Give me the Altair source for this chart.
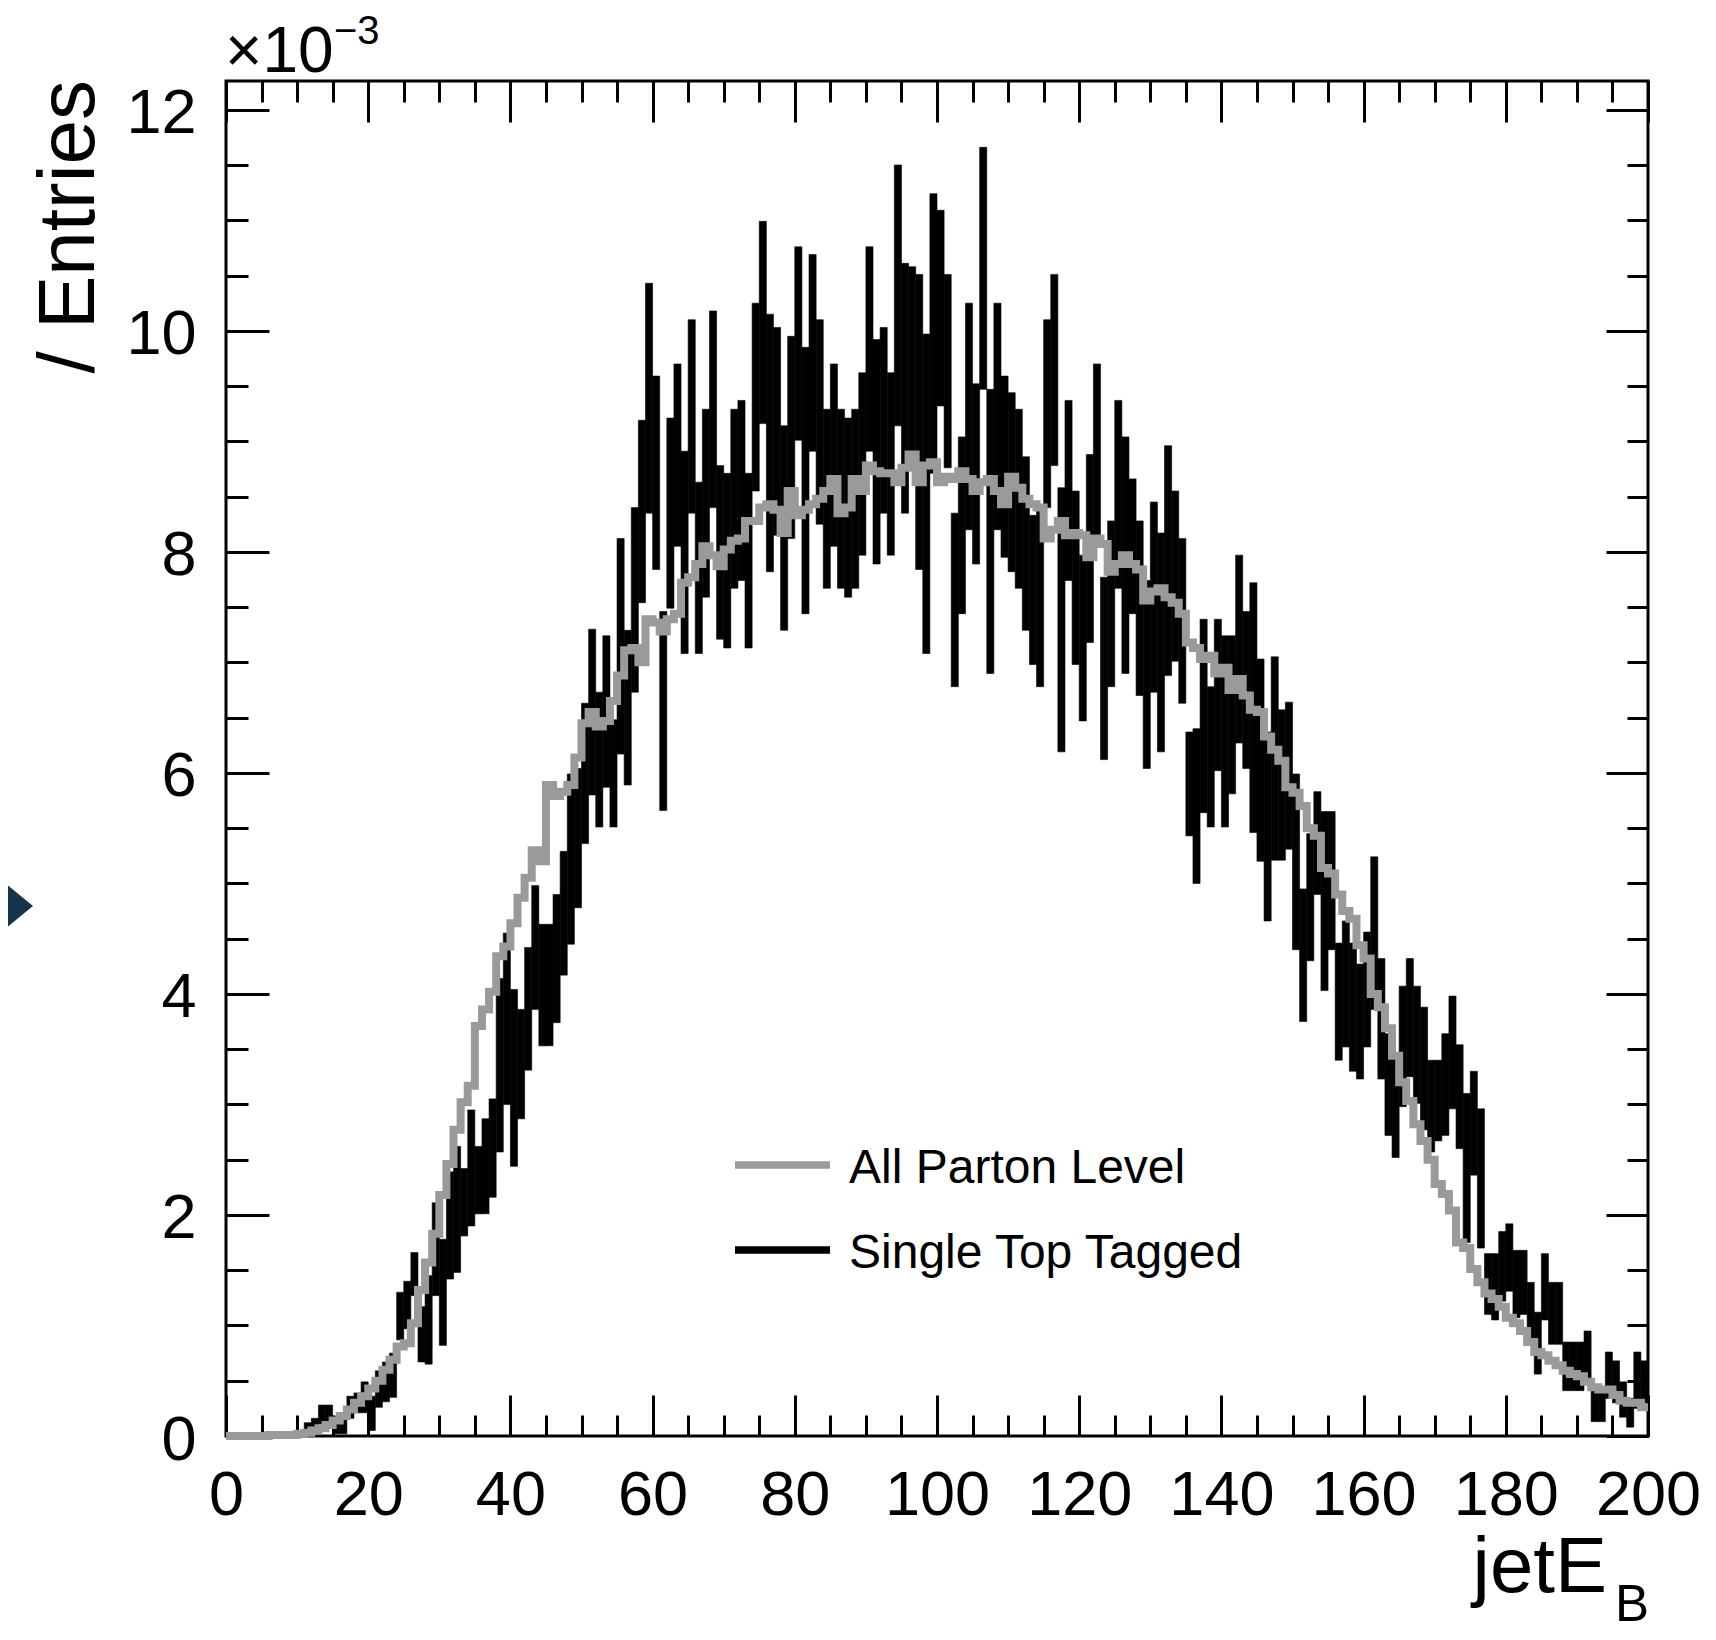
import altair as alt
import pandas as pd

FONT = "Liberation Sans"

# 1 GeV bins, lower edges
BIN_LO = list(range(0, 200))

# "All Parton Level" histogram (x 1e-3)
GRAY = [
    0, 0, 0, 0, 0, 0, 0.01, 0.01, 0.01, 0.01,
    0.02, 0.03, 0.05, 0.07, 0.10, 0.14, 0.18, 0.24, 0.30, 0.36,
    0.43, 0.50, 0.60, 0.69, 0.81, 0.84, 1.02, 1.32, 1.57, 1.83,
    2.18, 2.46, 2.77, 3.02, 3.17, 3.71, 3.86, 4.02, 4.34, 4.43,
    4.64, 4.87, 5.05, 5.30, 5.20, 5.89, 5.79, 5.83, 5.89, 6.14,
    6.45, 6.55, 6.42, 6.47, 6.65, 6.88, 7.11, 7.13, 7.00, 7.39,
    7.36, 7.28, 7.39, 7.44, 7.72, 7.77, 7.89, 8.05, 7.97, 7.87,
    8.02, 8.10, 8.12, 8.28, 8.28, 8.40, 8.43, 8.38, 8.17, 8.55,
    8.33, 8.38, 8.43, 8.48, 8.55, 8.66, 8.35, 8.40, 8.66, 8.55,
    8.78, 8.73, 8.71, 8.71, 8.63, 8.76, 8.88, 8.63, 8.78, 8.81,
    8.63, 8.68, 8.66, 8.73, 8.66, 8.55, 8.63, 8.66, 8.55, 8.43,
    8.68, 8.58, 8.48, 8.43, 8.40, 8.12, 8.20, 8.28, 8.15, 8.17,
    8.15, 7.95, 8.12, 8.07, 7.82, 7.89, 7.97, 7.89, 7.84, 7.56,
    7.64, 7.67, 7.59, 7.54, 7.44, 7.18, 7.13, 7.03, 7.06, 6.90,
    6.95, 6.75, 6.85, 6.70, 6.57, 6.55, 6.33, 6.21, 6.11, 5.87,
    5.82, 5.70, 5.50, 5.43, 5.14, 5.09, 4.90, 4.75, 4.68, 4.44,
    4.32, 4.00, 3.88, 3.69, 3.44, 3.20, 3.03, 2.82, 2.67, 2.50,
    2.28, 2.19, 2.04, 1.75, 1.70, 1.51, 1.39, 1.29, 1.24, 1.17,
    1.07, 1.02, 0.95, 0.85, 0.76, 0.73, 0.68, 0.64, 0.59, 0.56,
    0.54, 0.49, 0.44, 0.42, 0.42, 0.37, 0.32, 0.30, 0.30, 0.26,
]

# "Single Top Tagged": upper and lower ends of the error bars (x 1e-3)
N = None
BLACK_HI = [
    N, N, N, N, N, N, N, N, N, N,
    N, 0.12, 0.16, 0.28, 0.28, 0.18, 0.16, 0.36, 0.39, 0.49,
    0.36, 0.59, 0.67, 0.75, 1.30, 1.40, 1.66, 1.17, 1.45, 2.11,
    1.78, 2.39, 2.62, 2.42, 2.95, 2.62, 2.87, 3.05, 4.14, 4.55,
    4.04, 3.86, 4.42, 4.98, 4.63, 4.63, 4.90, 5.29, 5.99, 6.04,
    6.63, 7.30, 6.73, 7.24, 6.48, 8.12, 7.29, 8.40, 9.19, 10.43,
    9.59, 7.46, 9.21, 9.70, 8.91, 10.10, 8.63, 9.29, 10.18, 8.78,
    8.71, 9.29, 9.37, 8.71, 10.25, 10.99, 10.15, 10.03, 9.14, 9.95,
    10.76, 9.85, 10.69, 10.10, 9.29, 9.70, 9.29, 9.21, 9.29, 9.62,
    10.76, 9.92, 10.03, 9.62, 11.50, 10.61, 10.58, 10.51, 9.97, 11.24,
    11.09, 10.51, 8.35, 9.04, 10.25, 9.52, 11.66, 9.47, 10.25, 9.59,
    9.44, 9.29, 8.86, 8.33, 8.40, 10.10, 10.51, 8.58, 9.37, 8.55,
    7.97, 8.88, 9.70, 7.77, 8.28, 9.37, 9.04, 8.66, 8.28, 7.74,
    8.45, 8.17, 8.96, 8.55, 8.12, 6.37, 6.40, 7.39, 6.78, 7.39,
    7.24, 7.24, 7.97, 7.46, 7.72, 7.03, 6.37, 7.05, 6.57, 6.64,
    5.99, 4.95, 5.45, 5.83, 5.65, 5.65, 4.46, 4.66, 4.46, 4.27,
    4.56, 5.24, 4.32, 3.64, 3.44, 4.07, 4.32, 4.07, 3.88, 3.40,
    3.40, 3.64, 3.98, 3.54, 3.10, 3.30, 2.96, 1.65, 1.65, 1.85,
    1.92, 1.68, 1.68, 1.39, 1.12, 1.65, 1.39, 1.39, 0.85, 0.85,
    0.85, 0.95, 0.44, 0.44, 0.76, 0.68, 0.49, 0.34, 0.76, 0.68,
]
BLACK_LO = [
    N, N, N, N, N, N, N, N, N, N,
    N, 0.00, 0.02, 0.11, 0.11, 0.02, 0.02, 0.16, 0.21, 0.21,
    0.05, 0.26, 0.31, 0.35, 0.87, 0.97, 1.27, 0.67, 0.65, 1.27,
    0.82, 1.42, 1.48, 1.81, 1.90, 2.01, 2.01, 2.16, 2.57, 3.00,
    2.44, 2.87, 3.31, 3.86, 3.53, 3.53, 3.74, 4.17, 4.45, 4.78,
    5.36, 5.80, 5.51, 5.87, 5.51, 6.17, 5.89, 6.73, 7.54, 8.35,
    7.84, 5.66, 7.49, 8.05, 7.08, 8.35, 7.08, 7.59, 8.40, 7.21,
    7.13, 7.67, 7.74, 7.13, 8.55, 9.16, 7.82, 8.15, 7.29, 8.12,
    9.01, 7.44, 8.91, 8.25, 7.67, 8.05, 7.67, 7.59, 7.67, 7.97,
    8.91, 7.89, 8.35, 7.97, 9.14, 8.35, 8.86, 7.84, 7.08, 8.71,
    9.32, 8.76, 6.78, 7.44, 8.20, 7.89, 9.47, 6.90, 8.20, 7.95,
    7.82, 7.67, 7.29, 6.98, 6.78, 8.40, 8.78, 6.19, 7.74, 6.98,
    6.47, 7.18, 8.05, 6.12, 6.78, 7.67, 6.90, 7.44, 6.70, 6.04,
    6.73, 6.19, 6.88, 7.01, 6.63, 5.43, 5.00, 5.64, 5.51, 6.02,
    5.51, 5.81, 6.27, 6.04, 5.46, 5.20, 4.66, 5.21, 5.21, 5.31,
    4.40, 3.75, 4.30, 4.90, 4.03, 4.40, 3.40, 3.52, 3.30, 3.23,
    3.52, 3.86, 3.23, 2.72, 2.52, 2.98, 3.25, 3.01, 2.77, 2.57,
    2.67, 2.72, 2.96, 2.60, 1.75, 2.36, 1.70, 1.10, 1.05, 1.22,
    1.31, 1.07, 1.10, 0.83, 0.56, 1.05, 0.83, 0.83, 0.41, 0.41,
    0.41, 0.51, 0.13, 0.13, 0.34, 0.30, 0.17, 0.08, 0.25, 0.30,
]

X_MAJOR = [0, 20, 40, 60, 80, 100, 120, 140, 160, 180, 200]
X_MINOR = list(range(0, 201, 5))
Y_MAJOR = [0, 2, 4, 6, 8, 10, 12]
Y_MINOR = [k * 0.5 for k in range(25)]

LEGEND_LABELS = ["All Parton Level", "Single Top Tagged"]
X_TITLE = "jetE"
X_TITLE_SUB = "B"
Y_TITLE = "/ Entries"
EXP_BASE = "\u00d710"
EXP_POW = "\u22123"

GRAY_COLOR = "#9a9a9a"
W, H = 1422, 1355
YMAX = 12.26
LABEL_SIZE = 63

df_gray = pd.DataFrame({"x": BIN_LO + [200], "v": GRAY + [GRAY[-1]]})
rows = [
    {"x0": b, "x1": b + 1, "lo": lo, "hi": hi}
    for b, lo, hi in zip(BIN_LO, BLACK_LO, BLACK_HI)
    if hi is not None
]
df_black = pd.DataFrame(rows)

xs = alt.Scale(domain=[0, 200], nice=False, zero=False)
ys = alt.Scale(domain=[0, YMAX], nice=False, zero=False)


def tick_axis(orient, values, size):
    return alt.Axis(
        orient=orient, values=values, labels=False, ticks=True, domain=False,
        grid=False, title=None, tickSize=alt.ExprRef(expr=str(-size)),
        tickWidth=3, tickColor="black",
    )


label_x = alt.Axis(
    orient="bottom", values=X_MAJOR, format="d", ticks=False, domain=False,
    grid=False, title=None, labelFont=FONT, labelFontSize=LABEL_SIZE,
    labelColor="black", labelPadding=28, labelFlush=False, labelOverlap=False,
    labelBound=False,
)
label_y = alt.Axis(
    orient="left", values=Y_MAJOR, format="d", ticks=False, domain=False,
    grid=False, title=None, labelFont=FONT, labelFontSize=LABEL_SIZE,
    labelColor="black", labelPadding=30, labelOffset=4, labelFlush=False,
    labelOverlap=False, labelBound=False,
)

bars = alt.Chart(df_black).mark_rect(
    color="black", stroke="black", strokeWidth=0.6
).encode(
    x=alt.X("x0:Q", scale=xs, axis=tick_axis("bottom", X_MAJOR, 41)),
    x2="x1:Q",
    y=alt.Y("lo:Q", scale=ys, axis=tick_axis("left", Y_MAJOR, 43)),
    y2="hi:Q",
)

line = alt.Chart(df_gray).mark_line(
    interpolate="step-after", color=GRAY_COLOR, strokeWidth=8,
    strokeJoin="miter", strokeCap="butt",
).encode(
    x=alt.X("x:Q", scale=xs, axis=label_x),
    y=alt.Y("v:Q", scale=ys, axis=label_y),
)


def dummy(ax_x, ax_y):
    return alt.Chart(df_gray).mark_point(opacity=0).encode(
        x=alt.X("x:Q", scale=xs, axis=ax_x),
        y=alt.Y("v:Q", scale=ys, axis=ax_y),
    )


d1 = dummy(tick_axis("bottom", X_MINOR, 21), tick_axis("left", Y_MINOR, 22))
d2 = dummy(tick_axis("top", X_MAJOR, 41), tick_axis("right", Y_MAJOR, 42))
d3 = dummy(tick_axis("top", X_MINOR, 21), tick_axis("right", Y_MINOR, 21))

one = pd.DataFrame({"k": [0]})


def text(t, x, y, size, align="left", angle=0):
    props = dict(font=FONT, fontSize=size, color="black", align=align,
                 baseline="alphabetic")
    if angle:
        props["angle"] = angle
    return alt.Chart(pd.DataFrame({"t": [t]})).mark_text(**props).encode(
        text="t:N", x=alt.value(x), y=alt.value(y)
    )


def seg(color, y):
    return alt.Chart(one).mark_rule(color=color, strokeWidth=7.5, strokeCap="butt").encode(
        x=alt.value(509), x2=alt.value(604), y=alt.value(y)
    )


legend = [
    seg(GRAY_COLOR, 1084),
    seg("black", 1169),
    text(LEGEND_LABELS[0], 623, 1102, 48),
    text(LEGEND_LABELS[1], 623, 1187, 48),
]

titles = [
    text(Y_TITLE, -132, -1, 80, align="right", angle=270),
    text(X_TITLE, 1381, 1511, 78, align="right"),
    text(X_TITLE_SUB, 1389, 1540, 51),
    text(EXP_BASE, -1, -9, 64),
    text(EXP_POW, 108, -37, 40),
]

tri = alt.Chart(one).mark_point(
    shape="M-0.61,-1L0.61,0L-0.61,1Z", filled=True, color="#13344b",
    size=2916, opacity=1, strokeWidth=0,
).encode(x=alt.value(-209.5), y=alt.value(825))

chart = alt.layer(
    bars, line, d1, d2, d3, *legend, *titles, tri
).resolve_axis(x="independent", y="independent").properties(
    width=W, height=H,
    autosize=alt.AutoSizeParams(type="none"),
    padding={"left": 218, "top": 73, "right": 60, "bottom": 195},
    background="white",
).configure_view(stroke="black", strokeWidth=3)

chart.save("out.html", embed_options={"renderer": "svg", "actions": False})
